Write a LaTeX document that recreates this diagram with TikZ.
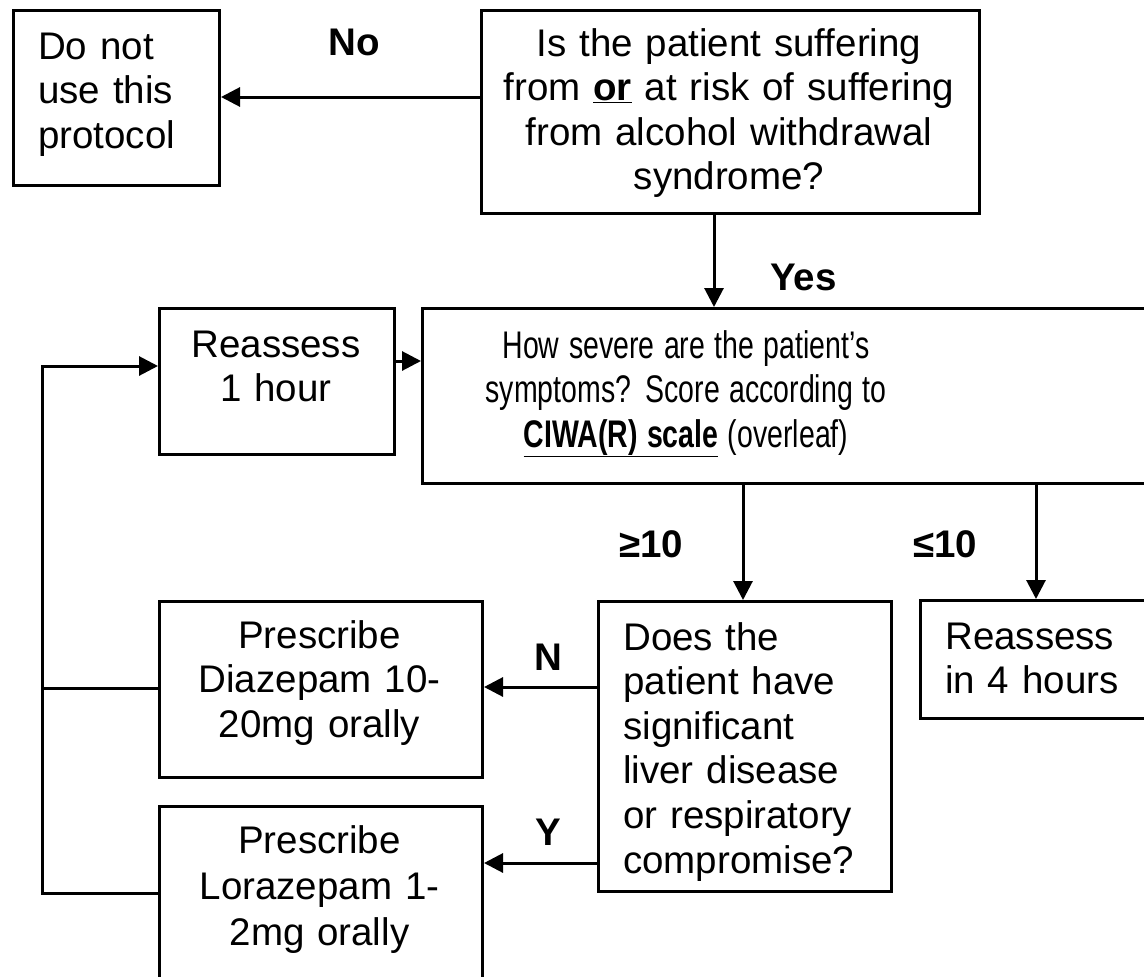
\documentclass[tikz,border=0pt]{standalone}
\usepackage{fontspec}
\usepackage{graphicx}
\setmainfont{Liberation Sans}
\usetikzlibrary{arrows.meta}
\begin{document}
\begin{tikzpicture}[x=1pt,y=-1pt,
  box/.style={draw, line width=3pt, rectangle, inner sep=0pt, anchor=north west},
  txtc/.style={inner sep=0pt, anchor=base, text width=520pt, align=center, font=\fontsize{38.5}{44.6}\selectfont},
  txtl/.style={inner sep=0pt, anchor=base west, text width=400pt, align=left, font=\fontsize{38.5}{44.6}\selectfont},
  lbl/.style={inner sep=0pt, anchor=base, font=\fontsize{38.5}{44.6}\selectfont\bfseries},
  conn/.style={line width=3pt},
  arr/.style={conn, -{Triangle[length=19pt,width=19pt]}}
]
\useasboundingbox (0,0) rectangle (1144,977);
\fill[white] (0,0) rectangle (1144,977);
\clip (0,0) rectangle (1144,977);

% boxes
\node[box, minimum width=206pt, minimum height=175pt] (donot) at (12,9) {};
\node[box, minimum width=498pt, minimum height=203pt] (question) at (480,9) {};
\node[box, minimum width=235pt, minimum height=146pt] (reassess1) at (158,307) {};
\node[box, minimum width=800pt, minimum height=175pt] (severity) at (421,307) {};
\node[box, minimum width=293pt, minimum height=290pt] (liver) at (597,600) {};
\node[box, minimum width=300pt, minimum height=118pt] (reassess4) at (919,599) {};
\node[box, minimum width=323pt, minimum height=176pt] (diazepam) at (158,600) {};
\node[box, minimum width=323pt, minimum height=250pt] (lorazepam) at (158,805) {};

% texts
\node[txtl] (tdonot) at (38,59) {Do not\\use this\\protocol};
\node[txtc] (tquestion) at (729,56) {Is the patient suffering\\from \underline{\textbf{or}} at risk of suffering\\from alcohol withdrawal\\syndrome?};
\node[txtc] (treassess1) at (276,357) {Reassess\\1 hour};
\node[txtc] (tseverity) at (686,358) {\scalebox{0.74}[1]{How severe are the patient’s}\\\scalebox{0.74}[1]{symptoms? Score according to}\\\scalebox{0.74}[1]{\underline{\textbf{CIWA(R) scale}} (overleaf)}};
\node[txtl] (tliver) at (623,650) {Does the\\patient have\\significant\\liver disease\\or respiratory\\compromise?};
\node[txtl] (treassess4) at (945,649) {Reassess\\in 4 hours};
\node[txtc] (tdiazepam) at (319.5,648) {Prescribe\\Diazepam 10-\\20mg orally};
\node[txtc, font=\fontsize{38.5}{46}\selectfont] (tlorazepam) at (319.5,853) {Prescribe\\Lorazepam 1-\\2mg orally};

% labels
\node[lbl] (lNo) at (354,55) {No};
\node[lbl, anchor=base west] (lYes) at (770,290) {Yes};
\node[lbl] (lGe) at (651,557) {≥10};
\node[lbl] (lLe) at (945,557) {≤10};
\node[lbl] (lN) at (548,670) {N};
\node[lbl] (lY) at (548,845) {Y};

% helper coordinates
\coordinate (yNo) at (0,97);
\coordinate (xYes) at (714,0);
\coordinate (yR) at (0,361);
\coordinate (xGe) at (743,0);
\coordinate (xLe) at (1036,0);
\coordinate (yN) at (0,687);
\coordinate (yY) at (0,863);
\coordinate (xL) at (42,0);
\coordinate (yD) at (0,688);
\coordinate (yL) at (0,893);
\coordinate (yR1) at (0,366);

% connectors
\draw[arr] (question.west |- yNo) -- (donot.east |- yNo);
\draw[arr] (question.south -| xYes) -- (severity.north -| xYes);
\draw[arr] (reassess1.east |- yR) -- (severity.west |- yR);
\draw[arr] (severity.south -| xGe) -- (liver.north -| xGe);
\draw[arr] (severity.south -| xLe) -- (reassess4.north -| xLe);
\draw[arr] (liver.west |- yN) -- (diazepam.east |- yN);
\draw[arr] (liver.west |- yY) -- (lorazepam.east |- yY);
\draw[conn] (diazepam.west |- yD) -- (xL |- yD);
\draw[arr] (lorazepam.west |- yL) -| (xL |- yR1) -- (reassess1.west |- yR1);
\end{tikzpicture}
\end{document}
